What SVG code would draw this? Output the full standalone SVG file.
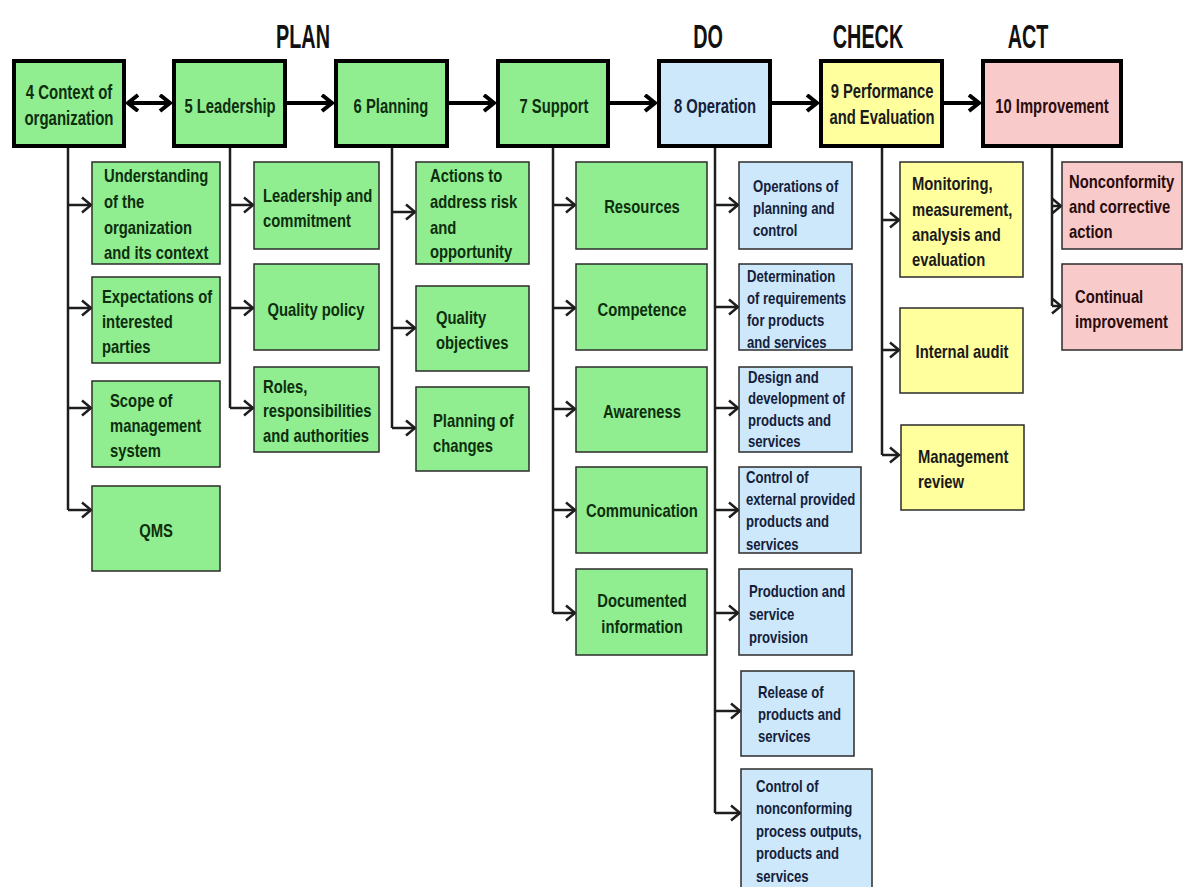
<svg xmlns="http://www.w3.org/2000/svg" width="1190" height="887" viewBox="0 0 1190 887">
  <style>
    text { font-family: "Liberation Sans", Arial, "DejaVu Sans", sans-serif; font-weight: bold; }
    .hd { font-size: 33px; fill: #111; }
    .t1 { font-size: 20px; }
    .t2 { font-size: 18.5px; }
    .t3 { font-size: 16.4px; }
    .mid { text-anchor: middle; }
    .top { stroke: #000; stroke-width: 4; }
    .sub { stroke: #2b2b2b; stroke-width: 1.5; }
    .g { fill: #90ee90; }
    .b { fill: #cde8fa; }
    .y { fill: #ffff9e; }
    .p { fill: #f9caca; }
    .tg { fill: #0e2e0e; }
    .tb { fill: #14203a; }
    .ty { fill: #1a1a1a; }
    .tp { fill: #2a0c0c; }
    .main { stroke: #000; stroke-width: 4; fill: none; }
    .branch { stroke: #1e1e1e; stroke-width: 2.5; fill: none; }
  </style>
  <defs>
    <marker id="bigHead" markerUnits="userSpaceOnUse" markerWidth="16" markerHeight="20" refX="12" refY="9" orient="auto-start-reverse">
      <path d="M2,1 L12,9 L2,17" fill="none" stroke="#000" stroke-width="4"/>
    </marker>
    <marker id="smallHead" markerUnits="userSpaceOnUse" markerWidth="14" markerHeight="20" refX="11" refY="9" orient="auto">
      <path d="M2,1.5 L11,9 L2,16.5" fill="none" stroke="#1e1e1e" stroke-width="2.5"/>
    </marker>
  </defs>

  <rect width="1190" height="887" fill="#fff"/>

  <!-- phase headings -->
  <g id="headings">
    <text class="hd mid" transform="translate(303,48) scale(0.6,1)">PLAN</text>
    <text class="hd mid" transform="translate(708,48) scale(0.6,1)">DO</text>
    <text class="hd mid" transform="translate(868,48) scale(0.6,1)">CHECK</text>
    <text class="hd mid" transform="translate(1028,48) scale(0.6,1)">ACT</text>
  </g>

  <!-- connectors -->
  <g id="connectors">
    <line class="main" x1="128" y1="103" x2="170" y2="103" marker-start="url(#bigHead)" marker-end="url(#bigHead)"/>
    <line class="main" x1="287" y1="103" x2="332" y2="103" marker-end="url(#bigHead)"/>
    <line class="main" x1="449" y1="103" x2="494" y2="103" marker-end="url(#bigHead)"/>
    <line class="main" x1="610" y1="103" x2="655" y2="103" marker-end="url(#bigHead)"/>
    <line class="main" x1="772" y1="103" x2="817" y2="103" marker-end="url(#bigHead)"/>
    <line class="main" x1="944" y1="103" x2="979" y2="103" marker-end="url(#bigHead)"/>

    <path class="branch" d="M68,148 V510"/>
    <path class="branch" d="M68,205 H91" marker-end="url(#smallHead)"/>
    <path class="branch" d="M68,308 H91" marker-end="url(#smallHead)"/>
    <path class="branch" d="M68,408 H91" marker-end="url(#smallHead)"/>
    <path class="branch" d="M68,510 H91" marker-end="url(#smallHead)"/>

    <path class="branch" d="M230,148 V408"/>
    <path class="branch" d="M230,205 H253" marker-end="url(#smallHead)"/>
    <path class="branch" d="M230,308 H253" marker-end="url(#smallHead)"/>
    <path class="branch" d="M230,408 H253" marker-end="url(#smallHead)"/>

    <path class="branch" d="M392,148 V428"/>
    <path class="branch" d="M392,212 H415" marker-end="url(#smallHead)"/>
    <path class="branch" d="M392,328 H415" marker-end="url(#smallHead)"/>
    <path class="branch" d="M392,428 H415" marker-end="url(#smallHead)"/>

    <path class="branch" d="M553,148 V613"/>
    <path class="branch" d="M553,205 H575" marker-end="url(#smallHead)"/>
    <path class="branch" d="M553,308 H575" marker-end="url(#smallHead)"/>
    <path class="branch" d="M553,409 H575" marker-end="url(#smallHead)"/>
    <path class="branch" d="M553,510 H575" marker-end="url(#smallHead)"/>
    <path class="branch" d="M553,613 H575" marker-end="url(#smallHead)"/>

    <path class="branch" d="M715,148 V813"/>
    <path class="branch" d="M715,205 H738" marker-end="url(#smallHead)"/>
    <path class="branch" d="M715,307 H738" marker-end="url(#smallHead)"/>
    <path class="branch" d="M715,408 H738" marker-end="url(#smallHead)"/>
    <path class="branch" d="M715,510 H738" marker-end="url(#smallHead)"/>
    <path class="branch" d="M715,613 H738" marker-end="url(#smallHead)"/>
    <path class="branch" d="M715,711 H740" marker-end="url(#smallHead)"/>
    <path class="branch" d="M715,813 H740" marker-end="url(#smallHead)"/>

    <path class="branch" d="M882,148 V455"/>
    <path class="branch" d="M882,220 H899" marker-end="url(#smallHead)"/>
    <path class="branch" d="M882,350 H899" marker-end="url(#smallHead)"/>
    <path class="branch" d="M882,455 H899" marker-end="url(#smallHead)"/>

    <path class="branch" d="M1052,148 V306"/>
    <path class="branch" d="M1052,206 H1061" marker-end="url(#smallHead)"/>
    <path class="branch" d="M1052,306 H1061" marker-end="url(#smallHead)"/>
  </g>

  <!-- main clauses -->
  <g id="clause4">
    <rect class="top g" x="14" y="61" width="110" height="85"/>
    <text class="t1 tg mid" transform="translate(69,99) scale(0.75,1)"><tspan x="0" y="0">4 Context of</tspan><tspan x="0" y="26">organization</tspan></text>
  </g>
  <g id="clause5">
    <rect class="top g" x="174" y="61" width="111" height="85"/>
    <text class="t1 tg mid" transform="translate(230,113) scale(0.74,1)">5 Leadership</text>
  </g>
  <g id="clause6">
    <rect class="top g" x="336" y="61" width="111" height="85"/>
    <text class="t1 tg mid" transform="translate(391,113) scale(0.74,1)">6 Planning</text>
  </g>
  <g id="clause7">
    <rect class="top g" x="498" y="61" width="110" height="85"/>
    <text class="t1 tg mid" transform="translate(554,113) scale(0.74,1)">7 Support</text>
  </g>
  <g id="clause8">
    <rect class="top b" x="659" y="61" width="111" height="85"/>
    <text class="t1 tb mid" transform="translate(715,113) scale(0.74,1)">8 Operation</text>
  </g>
  <g id="clause9">
    <rect class="top y" x="821" y="61" width="121" height="85"/>
    <text class="t1 ty mid" transform="translate(882,98) scale(0.74,1)"><tspan x="0" y="0">9 Performance</tspan><tspan x="0" y="26">and Evaluation</tspan></text>
  </g>
  <g id="clause10">
    <rect class="top p" x="983" y="61" width="138" height="85"/>
    <text class="t1 tp mid" transform="translate(1052,113) scale(0.74,1)">10 Improvement</text>
  </g>

  <!-- 4 Context of organization -->
  <g id="c4-1">
    <rect class="sub g" x="92" y="162" width="128" height="102"/>
    <text class="t2 tg" transform="translate(104,182) scale(0.8,1)"><tspan x="0" y="0">Understanding</tspan><tspan x="0" y="26">of the</tspan><tspan x="0" y="52">organization</tspan><tspan x="0" y="77">and its context</tspan></text>
  </g>
  <g id="c4-2">
    <rect class="sub g" x="92" y="277" width="128" height="86"/>
    <text class="t2 tg" transform="translate(102,303) scale(0.8,1)"><tspan x="0" y="0">Expectations of</tspan><tspan x="0" y="25">interested</tspan><tspan x="0" y="50">parties</tspan></text>
  </g>
  <g id="c4-3">
    <rect class="sub g" x="92" y="381" width="128" height="86"/>
    <text class="t2 tg" transform="translate(110,407) scale(0.8,1)"><tspan x="0" y="0">Scope of</tspan><tspan x="0" y="25">management</tspan><tspan x="0" y="50">system</tspan></text>
  </g>
  <g id="c4-4">
    <rect class="sub g" x="92" y="486" width="128" height="85"/>
    <text class="t2 tg mid" transform="translate(156,537) scale(0.8,1)">QMS</text>
  </g>

  <!-- 5 Leadership -->
  <g id="c5-1">
    <rect class="sub g" x="254" y="162" width="125" height="87"/>
    <text class="t2 tg" transform="translate(263,202) scale(0.8,1)"><tspan x="0" y="0">Leadership and</tspan><tspan x="0" y="25">commitment</tspan></text>
  </g>
  <g id="c5-2">
    <rect class="sub g" x="254" y="264" width="125" height="86"/>
    <text class="t2 tg mid" transform="translate(316,316) scale(0.8,1)">Quality policy</text>
  </g>
  <g id="c5-3">
    <rect class="sub g" x="254" y="367" width="125" height="85"/>
    <text class="t2 tg" transform="translate(263,393) scale(0.8,1)"><tspan x="0" y="0">Roles,</tspan><tspan x="0" y="24">responsibilities</tspan><tspan x="0" y="49">and authorities</tspan></text>
  </g>

  <!-- 6 Planning -->
  <g id="c6-1">
    <rect class="sub g" x="416" y="162" width="113" height="102"/>
    <text class="t2 tg" transform="translate(430,182) scale(0.8,1)"><tspan x="0" y="0">Actions to</tspan><tspan x="0" y="26">address risk</tspan><tspan x="0" y="52">and</tspan><tspan x="0" y="76">opportunity</tspan></text>
  </g>
  <g id="c6-2">
    <rect class="sub g" x="416" y="286" width="113" height="85"/>
    <text class="t2 tg" transform="translate(436,324) scale(0.8,1)"><tspan x="0" y="0">Quality</tspan><tspan x="0" y="25">objectives</tspan></text>
  </g>
  <g id="c6-3">
    <rect class="sub g" x="416" y="387" width="113" height="84"/>
    <text class="t2 tg" transform="translate(433,427) scale(0.8,1)"><tspan x="0" y="0">Planning of</tspan><tspan x="0" y="25">changes</tspan></text>
  </g>

  <!-- 7 Support -->
  <g id="c7-1">
    <rect class="sub g" x="576" y="162" width="131" height="87"/>
    <text class="t2 tg mid" transform="translate(642,213) scale(0.8,1)">Resources</text>
  </g>
  <g id="c7-2">
    <rect class="sub g" x="576" y="264" width="131" height="86"/>
    <text class="t2 tg mid" transform="translate(642,316) scale(0.8,1)">Competence</text>
  </g>
  <g id="c7-3">
    <rect class="sub g" x="576" y="367" width="131" height="85"/>
    <text class="t2 tg mid" transform="translate(642,418) scale(0.8,1)">Awareness</text>
  </g>
  <g id="c7-4">
    <rect class="sub g" x="576" y="467" width="131" height="86"/>
    <text class="t2 tg mid" transform="translate(642,517) scale(0.8,1)">Communication</text>
  </g>
  <g id="c7-5">
    <rect class="sub g" x="576" y="569" width="131" height="86"/>
    <text class="t2 tg mid" transform="translate(642,607) scale(0.8,1)"><tspan x="0" y="0">Documented</tspan><tspan x="0" y="26">information</tspan></text>
  </g>

  <!-- 8 Operation -->
  <g id="c8-1">
    <rect class="sub b" x="739" y="162" width="113" height="87"/>
    <text class="t3 tb" transform="translate(753,192) scale(0.8,1)"><tspan x="0" y="0">Operations of</tspan><tspan x="0" y="22">planning and</tspan><tspan x="0" y="44">control</tspan></text>
  </g>
  <g id="c8-2">
    <rect class="sub b" x="739" y="264" width="113" height="86"/>
    <text class="t3 tb" transform="translate(747,282) scale(0.8,1)"><tspan x="0" y="0">Determination</tspan><tspan x="0" y="22">of requirements</tspan><tspan x="0" y="44">for products</tspan><tspan x="0" y="66">and services</tspan></text>
  </g>
  <g id="c8-3">
    <rect class="sub b" x="739" y="367" width="113" height="85"/>
    <text class="t3 tb" transform="translate(748,383) scale(0.8,1)"><tspan x="0" y="0">Design and</tspan><tspan x="0" y="21.5">development of</tspan><tspan x="0" y="43">products and</tspan><tspan x="0" y="64.5">services</tspan></text>
  </g>
  <g id="c8-4">
    <rect class="sub b" x="739" y="467" width="122" height="86"/>
    <text class="t3 tb" transform="translate(746,483) scale(0.8,1)"><tspan x="0" y="0">Control of</tspan><tspan x="0" y="22">external provided</tspan><tspan x="0" y="44">products and</tspan><tspan x="0" y="67">services</tspan></text>
  </g>
  <g id="c8-5">
    <rect class="sub b" x="739" y="569" width="113" height="86"/>
    <text class="t3 tb" transform="translate(749,597) scale(0.8,1)"><tspan x="0" y="0">Production and</tspan><tspan x="0" y="23">service</tspan><tspan x="0" y="46">provision</tspan></text>
  </g>
  <g id="c8-6">
    <rect class="sub b" x="741" y="671" width="113" height="85"/>
    <text class="t3 tb" transform="translate(758,698) scale(0.8,1)"><tspan x="0" y="0">Release of</tspan><tspan x="0" y="22">products and</tspan><tspan x="0" y="44">services</tspan></text>
  </g>
  <g id="c8-7">
    <rect class="sub b" x="741" y="769" width="131" height="122"/>
    <text class="t3 tb" transform="translate(756,792) scale(0.8,1)"><tspan x="0" y="0">Control of</tspan><tspan x="0" y="22.5">nonconforming</tspan><tspan x="0" y="45">process outputs,</tspan><tspan x="0" y="67.5">products and</tspan><tspan x="0" y="90">services</tspan></text>
  </g>

  <!-- 9 Performance and Evaluation -->
  <g id="c9-1">
    <rect class="sub y" x="900" y="162" width="123" height="115"/>
    <text class="t2 ty" transform="translate(912,190) scale(0.8,1)"><tspan x="0" y="0">Monitoring,</tspan><tspan x="0" y="26">measurement,</tspan><tspan x="0" y="51">analysis and</tspan><tspan x="0" y="76">evaluation</tspan></text>
  </g>
  <g id="c9-2">
    <rect class="sub y" x="900" y="308" width="123" height="85"/>
    <text class="t2 ty mid" transform="translate(962,358) scale(0.8,1)">Internal audit</text>
  </g>
  <g id="c9-3">
    <rect class="sub y" x="901" y="425" width="123" height="85"/>
    <text class="t2 ty" transform="translate(918,463) scale(0.8,1)"><tspan x="0" y="0">Management</tspan><tspan x="0" y="25">review</tspan></text>
  </g>

  <!-- 10 Improvement -->
  <g id="c10-1">
    <rect class="sub p" x="1062" y="162" width="120" height="87"/>
    <text class="t2 tp" transform="translate(1069,188) scale(0.8,1)"><tspan x="0" y="0">Nonconformity</tspan><tspan x="0" y="25">and corrective</tspan><tspan x="0" y="50">action</tspan></text>
  </g>
  <g id="c10-2">
    <rect class="sub p" x="1062" y="264" width="120" height="86"/>
    <text class="t2 tp" transform="translate(1075,303) scale(0.8,1)"><tspan x="0" y="0">Continual</tspan><tspan x="0" y="25">improvement</tspan></text>
  </g>
</svg>
